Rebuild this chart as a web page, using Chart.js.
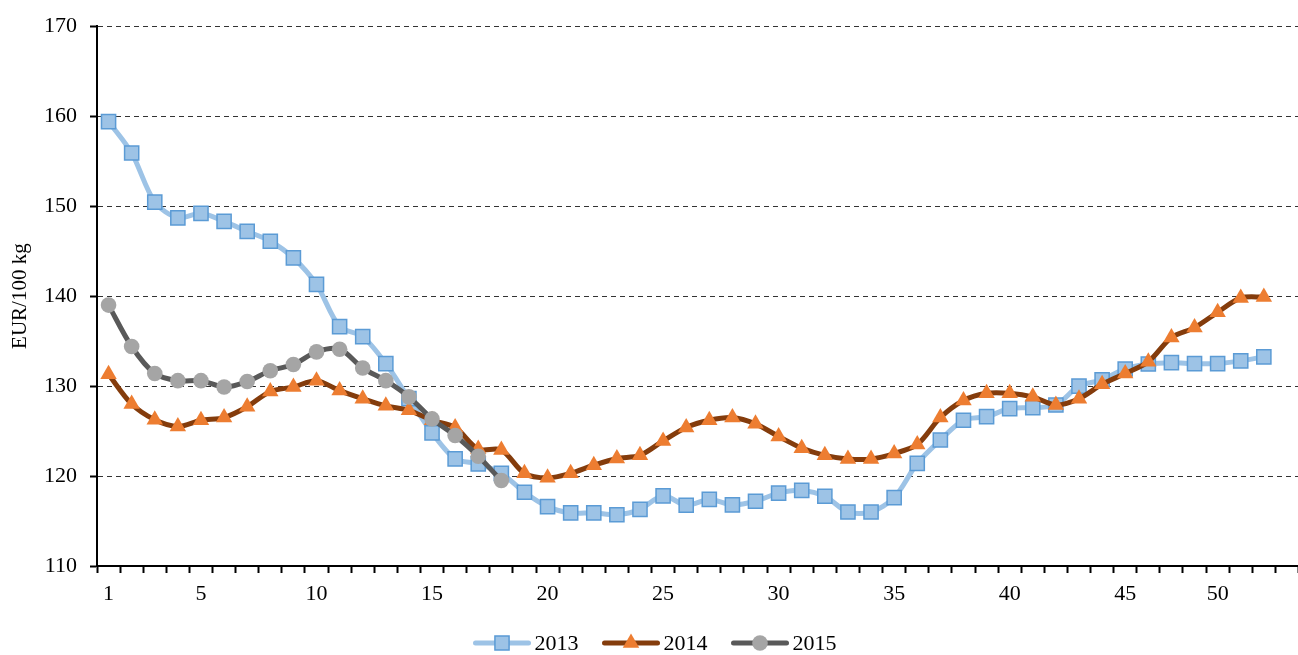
<!DOCTYPE html>
<html>
<head>
<meta charset="utf-8">
<script src="https://cdn.jsdelivr.net/npm/chart.js@4.4.0/dist/chart.umd.min.js"></script>
<style>
html, body { margin: 0; padding: 0; background: #fff; overflow: hidden; }
</style>
</head>
<body>
<canvas id="myChart" width="1310" height="655"></canvas>
<script>
// week labels along the x-axis (only some are shown)
var weekLabels = ["1","","","","5","","","","","10","","","","","15","","","","","20","","","","","25","","","","","30","","","","","35","","","","","40","","","","","45","","","","50","","",""];
// EUR/100 kg per week
var y2013 = [159.4,155.9,150.45,148.7,149.2,148.3,147.2,146.1,144.25,141.3,136.6,135.5,132.5,128.6,124.8,121.9,121.35,120.3,118.2,116.6,115.9,115.9,115.7,116.3,117.8,116.75,117.4,116.8,117.2,118.1,118.4,117.75,116.0,116.0,117.6,121.4,124.0,126.2,126.6,127.5,127.6,127.9,130.0,130.7,131.9,132.45,132.6,132.5,132.5,132.8,133.25];
var y2014 = [131.3,128.0,126.25,125.5,126.2,126.5,127.7,129.4,129.9,130.6,129.5,128.6,127.8,127.3,126.2,125.4,123.0,122.9,120.3,119.8,120.3,121.2,121.95,122.3,123.9,125.4,126.2,126.5,125.8,124.4,123.1,122.3,121.9,121.9,122.5,123.5,126.5,128.4,129.2,129.2,128.8,127.9,128.6,130.2,131.4,132.7,135.4,136.5,138.2,139.8,139.9];
var y2015 = [139.0,134.4,131.4,130.6,130.6,129.9,130.5,131.7,132.4,133.8,134.1,132.0,130.6,128.8,126.35,124.5,122.2,119.5];

var serif = '"Liberation Serif", "Times New Roman", serif';

// legend drawn as line + marker, like the original
var lineLegend = {
  id: 'lineLegend',
  afterDraw: function(chart) {
    var ctx = chart.ctx;
    var sets = chart.data.datasets;
    var lineLen = 57, gap = 4, spacing = 24, y = 643;
    ctx.save();
    ctx.font = '22px ' + serif;
    var total = spacing * (sets.length - 1);
    sets.forEach(function(ds) { total += lineLen + gap + ctx.measureText(ds.label).width; });
    var x = (chart.width - total) / 2;
    sets.forEach(function(ds) {
      ctx.strokeStyle = ds.borderColor;
      ctx.lineWidth = ds.borderWidth;
      ctx.lineCap = 'round';
      ctx.beginPath();
      ctx.moveTo(x + 2, y);
      ctx.lineTo(x + lineLen - 2, y);
      ctx.stroke();
      ctx.fillStyle = ds.pointBackgroundColor;
      ctx.strokeStyle = ds.pointBorderColor;
      ctx.lineWidth = ds.pointBorderWidth;
      Chart.helpers.drawPoint(ctx, {
        pointStyle: ds.pointStyle,
        radius: ds.pointRadius,
        borderWidth: ds.pointBorderWidth,
        rotation: 0
      }, x + lineLen / 2, y);
      ctx.fillStyle = '#000';
      ctx.textBaseline = 'middle';
      ctx.textAlign = 'left';
      ctx.fillText(ds.label, x + lineLen + gap, y + 1);
      x += lineLen + gap + ctx.measureText(ds.label).width + spacing;
    });
    ctx.restore();
  }
};

var ctx = document.getElementById("myChart");
var myChart = new Chart(ctx, {
  type: 'line',
  data: {
    labels: weekLabels,
    datasets: [
      {
        label: "2013",
        data: y2013,
        borderColor: "#9DC3E6",
        borderWidth: 5,
        pointStyle: 'rect',
        pointRadius: 10,
        pointBackgroundColor: "#9DC3E6",
        pointBorderColor: "#5B9BD5",
        pointBorderWidth: 1.5,
        tension: 0.3,
        order: 3
      },
      {
        label: "2014",
        data: y2014,
        borderColor: "#843C0C",
        borderWidth: 5,
        pointStyle: 'triangle',
        pointRadius: 9.5,
        pointBackgroundColor: "#ED7D31",
        pointBorderColor: "#ED7D31",
        pointBorderWidth: 0,
        tension: 0.3,
        order: 2
      },
      {
        label: "2015",
        data: y2015,
        borderColor: "#595959",
        borderWidth: 5,
        pointStyle: 'circle',
        pointRadius: 7.8,
        pointBackgroundColor: "#A5A5A5",
        pointBorderColor: "#A5A5A5",
        pointBorderWidth: 0,
        tension: 0.3,
        order: 1
      }
    ]
  },
  options: {
    responsive: false,
    animation: false,
    layout: { padding: { left: 0, right: 6, top: 25, bottom: 49 } },
    plugins: {
      legend: { display: false },
      tooltip: { enabled: false }
    },
    scales: {
      x: {
        type: 'category',
        offset: true,
        afterFit: function(scale) { scale.height = 40; },
        grid: {
          offset: true,
          drawOnChartArea: false,
          drawTicks: true,
          tickLength: 7,
          tickColor: '#000',
          tickWidth: 2
        },
        border: { color: '#000', width: 2 },
        ticks: {
          autoSkip: false,
          maxRotation: 0,
          minRotation: 0,
          padding: 8,
          color: '#000',
          font: { family: serif, size: 22 }
        }
      },
      y: {
        min: 110,
        max: 170,
        afterFit: function(scale) { scale.width = 97; },
        ticks: {
          stepSize: 10,
          padding: 13,
          color: '#000',
          font: { family: serif, size: 22 }
        },
        grid: {
          color: '#333333',
          lineWidth: 1,
          drawTicks: true,
          tickLength: 7,
          tickColor: '#000',
          tickWidth: 2
        },
        border: { color: '#000', width: 2, dash: [5, 4] },
        title: {
          display: true,
          text: 'EUR/100 kg',
          color: '#000',
          padding: { top: 8, bottom: 0 },
          font: { family: serif, size: 21 }
        }
      }
    }
  },
  plugins: [lineLegend]
});
</script>
</body>
</html>
